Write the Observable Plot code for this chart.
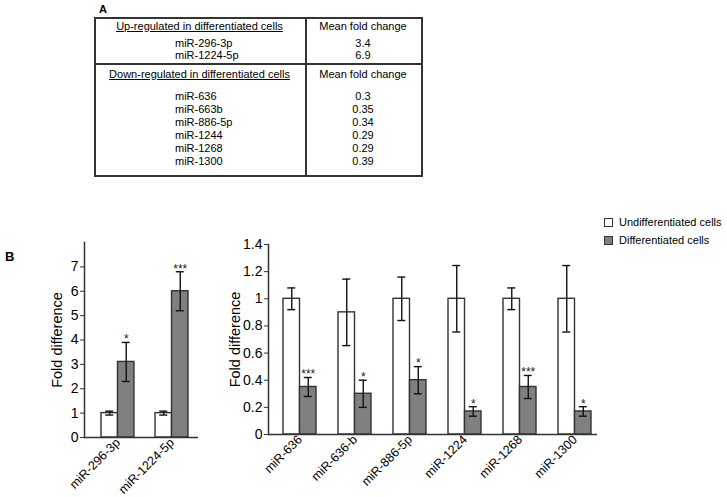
<!DOCTYPE html>
<html><head><meta charset="utf-8">
<script src="https://cdn.jsdelivr.net/npm/d3@7"></script>
<script src="https://cdn.jsdelivr.net/npm/@observablehq/plot@0.6"></script>
<style>
body{margin:0;width:727px;height:497px;position:relative;background:#fff;font-family:"Liberation Sans",Arial,sans-serif;color:#000;overflow:hidden}
.abs{position:absolute;white-space:nowrap}
.t{font-size:11px;line-height:14px;height:14px}
.hl{position:absolute;background:#333;height:1.5px}
.vl{position:absolute;background:#333;width:1.5px}
.plotbox{position:absolute;top:230px}
</style></head><body>
<script>
// ---- Panel A table data ----
const upHeader = "Up-regulated in differentiated cells";
const downHeader = "Down-regulated in differentiated cells";
const foldHeader = "Mean fold change";
const upGenes = ["miR-296-3p", "miR-1224-5p"];
const upFold = ["3.4", "6.9"];
const downGenes = ["miR-636", "miR-663b", "miR-886-5p", "miR-1244", "miR-1268", "miR-1300"];
const downFold = ["0.3", "0.35", "0.34", "0.29", "0.29", "0.39"];

// ---- Panel B left chart data ----
const leftGenes = ["miR-296-3p", "miR-1224-5p"];
const leftUndiff = [1.0, 1.0];
const leftUndiffErr = [0.08, 0.08];
const leftDiff = [3.1, 6.0];
const leftDiffErr = [0.8, 0.8];
const leftStars = ["*", "***"];
const leftTicks = [0, 1, 2, 3, 4, 5, 6, 7];

// ---- Panel B right chart data ----
const rightGenes = ["miR-636", "miR-636-b", "miR-886-5p", "miR-1224", "miR-1268", "miR-1300"];
const rightUndiff = [1.0, 0.9, 1.0, 1.0, 1.0, 1.0];
const rightUndiffErr = [0.08, 0.245, 0.16, 0.245, 0.08, 0.245];
const rightDiff = [0.35, 0.3, 0.4, 0.17, 0.35, 0.17];
const rightDiffErr = [0.07, 0.1, 0.1, 0.035, 0.085, 0.035];
const rightStars = ["***", "*", "*", "*", "***", "*"];
const rightTicks = [0, 0.2, 0.4, 0.6, 0.8, 1, 1.2, 1.4];

const seriesNames = ["Undifferentiated cells", "Differentiated cells"];
const seriesFill = ["#ffffff", "#808080"];

// ---------- helpers ----------
function el(tag, cls, style, text) {
  const e = document.createElement(tag);
  if (cls) e.className = cls;
  Object.assign(e.style, style);
  if (text != null) e.textContent = text;
  document.body.appendChild(e);
  return e;
}

// ---------- Panel labels ----------
el("div", "abs", {left: "99px", top: "3px", fontSize: "11px", fontWeight: "bold"}, "A");
el("div", "abs", {left: "5px", top: "249px", fontSize: "13px", fontWeight: "bold"}, "B");

// ---------- Table ----------
const T = {left: 94, top: 17, right: 421, bottom: 175, hmid: 63, vmid: 305};
el("div", "hl", {left: T.left + "px", top: T.top + "px", width: (T.right - T.left + 1.5) + "px"});
el("div", "hl", {left: T.left + "px", top: T.hmid + "px", width: (T.right - T.left + 1.5) + "px"});
el("div", "hl", {left: T.left + "px", top: T.bottom + "px", width: (T.right - T.left + 1.5) + "px"});
el("div", "vl", {left: T.left + "px", top: T.top + "px", height: (T.bottom - T.top) + "px"});
el("div", "vl", {left: T.vmid + "px", top: T.top + "px", height: (T.bottom - T.top) + "px"});
el("div", "vl", {left: T.right + "px", top: T.top + "px", height: (T.bottom - T.top) + "px"});

const leftC = (T.left + T.vmid) / 2, rightC = (T.vmid + T.right) / 2, geneX = 175;
function centered(x, y, txt, underline) {
  el("div", "abs t", {left: (x - 150) + "px", width: "300px", textAlign: "center", top: (y - 7) + "px",
    textDecoration: underline ? "underline" : "none"}, txt);
}
function leftText(x, y, txt) {
  el("div", "abs t", {left: x + "px", top: (y - 7) + "px"}, txt);
}
centered(leftC, 26, upHeader, true);
centered(rightC, 26, foldHeader, false);
const upY = [43, 55];
upGenes.forEach((g, i) => { leftText(geneX, upY[i], g); centered(rightC, upY[i], upFold[i]); });
centered(leftC, 74, downHeader, true);
centered(rightC, 74, foldHeader, false);
const downY = [96, 108.5, 121.5, 134.5, 148, 161];
downGenes.forEach((g, i) => { leftText(geneX, downY[i], g); centered(rightC, downY[i], downFold[i]); });

// ---------- Legend ----------
seriesNames.forEach((name, i) => {
  const y = [222, 240][i];
  el("div", "abs", {left: "604px", top: (y - 4) + "px", width: "7px", height: "7px",
    background: seriesFill[i], border: "1px solid #333"});
  el("div", "abs t", {left: "619px", top: (y - 7) + "px"}, name);
});

// ---------- Charts ----------
function chart(o) {
  const data = o.genes.map((g, i) => ({gene: g, u: o.u[i], ue: o.ue[i], d: o.d[i], de: o.de[i], s: o.stars[i]}));
  const n = o.genes.length, pi = o.pi, po = o.po;
  const step = (o.xRange[1] - o.xRange[0]) / (n - pi + 2 * po);
  const bw = step * (1 - pi);
  const h = bw / 2, q = bw / 4, cap = 4;
  const ax = "#333";
  const p = Plot.plot({
    width: o.width, height: 267,
    marginLeft: o.marginLeft, marginRight: o.marginRight, marginTop: o.marginTop, marginBottom: o.marginBottom,
    style: {fontFamily: "'Liberation Sans', Arial, sans-serif", background: "transparent", color: "#000", overflow: "visible"},
    x: {domain: o.genes, range: o.xRange, paddingInner: pi, paddingOuter: po, round: false},
    y: {domain: o.yDomain},
    marks: [
      Plot.barY(data, {x: "gene", y: "u", fill: seriesFill[0], stroke: ax, strokeWidth: 1.4, insetRight: h}),
      Plot.barY(data, {x: "gene", y: "d", fill: seriesFill[1], stroke: ax, strokeWidth: 1.4, insetLeft: h}),
      Plot.ruleX(data, {x: "gene", y1: r => r.u - r.ue, y2: r => r.u + r.ue, dx: -q, stroke: "#111", strokeWidth: 1.4}),
      Plot.ruleX(data, {x: "gene", y1: r => r.d - r.de, y2: r => r.d + r.de, dx: q, stroke: "#111", strokeWidth: 1.4}),
      Plot.tickY(data, {x: "gene", y: r => r.u + r.ue, insetLeft: q - cap, insetRight: bw - q - cap, stroke: "#111", strokeWidth: 1.4}),
      Plot.tickY(data, {x: "gene", y: r => r.u - r.ue, insetLeft: q - cap, insetRight: bw - q - cap, stroke: "#111", strokeWidth: 1.4}),
      Plot.tickY(data, {x: "gene", y: r => r.d + r.de, insetLeft: bw - q - cap, insetRight: q - cap, stroke: "#111", strokeWidth: 1.4}),
      Plot.tickY(data, {x: "gene", y: r => r.d - r.de, insetLeft: bw - q - cap, insetRight: q - cap, stroke: "#111", strokeWidth: 1.4}),
      Plot.text(data, {x: "gene", y: r => r.d + r.de, text: "s", dx: q, dy: -3, fontSize: 12, fill: "#222"}),
      Plot.ruleY([0], {stroke: ax, strokeWidth: 1.5}),
      Plot.frame({anchor: "left", stroke: ax, strokeWidth: 1.5}),
      Plot.axisY(o.yTicks, {tickSize: 4, tickPadding: 2, fontSize: 14, tickFormat: d => String(d), label: null, stroke: ax}),
      Plot.axisX({tickSize: 0, tickPadding: 3, tickRotate: -45, fontSize: 12.5, label: null}),
      Plot.text(["Fold difference"], {text: d => d, frameAnchor: "left", textAnchor: "middle", rotate: -90, dx: o.labelDx, fontSize: 14.5})
    ]
  });
  const box = document.createElement("div");
  box.className = "plotbox";
  box.style.left = o.left + "px";
  box.appendChild(p);
  document.body.appendChild(box);
}

chart({genes: leftGenes, u: leftUndiff, ue: leftUndiffErr, d: leftDiff, de: leftDiffErr, stars: leftStars,
  yDomain: [0, 8], yTicks: leftTicks, left: 0, width: 210, marginLeft: 84, marginRight: 12,
  marginTop: 12, marginBottom: 60, xRange: [84.8, 204.2], pi: 0.39, po: 0.3, labelDx: -27});

chart({genes: rightGenes, u: rightUndiff, ue: rightUndiffErr, d: rightDiff, de: rightDiffErr, stars: rightStars,
  yDomain: [0, 1.4], yTicks: rightTicks, left: 210, width: 517, marginLeft: 58, marginRight: 130,
  marginTop: 14, marginBottom: 63, xRange: [56.5, 397.5], pi: 0.4, po: 0.3, labelDx: -33});
</script>
</body></html>
